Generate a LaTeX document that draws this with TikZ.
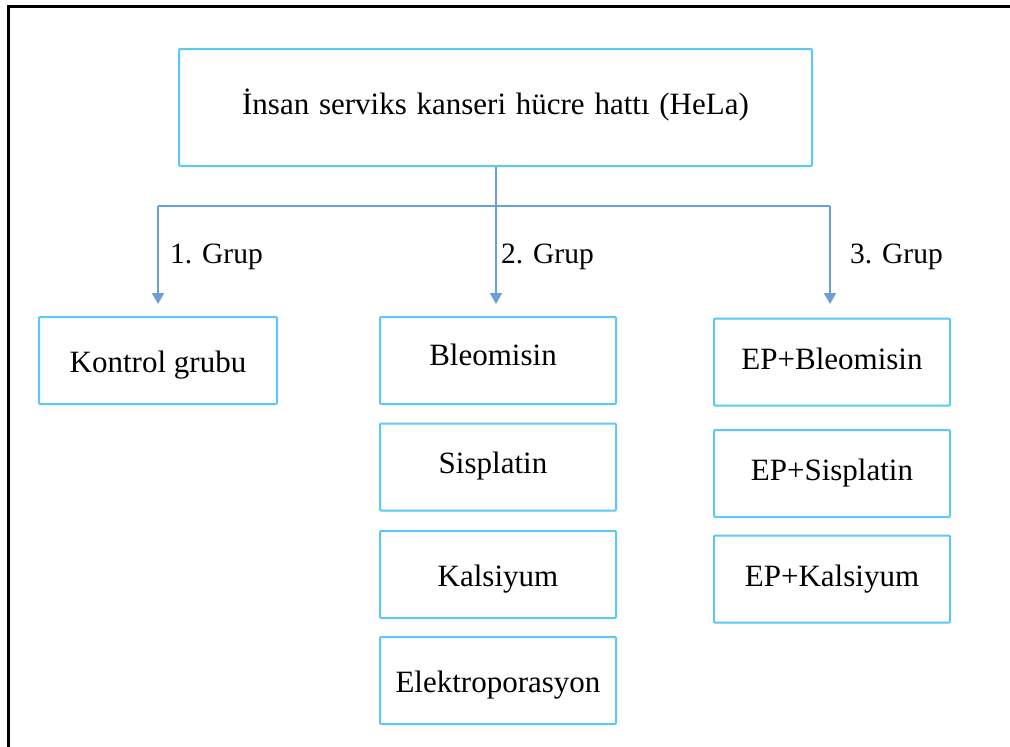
\documentclass[tikz,border=0pt]{standalone}
\usepackage{fontspec}
\setmainfont{Liberation Serif}
\usetikzlibrary{arrows.meta}
\definecolor{boxc}{HTML}{5CC8F5}
\definecolor{arrc}{HTML}{6A9FD8}
\tikzset{
  box/.style={draw=boxc, line width=2pt, rounded corners=1pt, minimum width=#1, minimum height=87pt, inner sep=0pt, text height=21pt, text depth=7pt, font=\fontsize{31}{36}\selectfont},
  conn/.style={draw=arrc, line width=2pt},
  arr/.style={conn, -{Triangle[length=11pt,width=12pt]}},
  lbl/.style={font=\fontsize{29.5}{34}\selectfont, anchor=west, inner sep=0pt}
}
\newcommand{\wsp}{\hspace{2pt} }
\begin{document}
\begin{tikzpicture}[x=1pt,y=-1pt]
\useasboundingbox (0,0) rectangle (1010,747);
\draw[line width=3pt] (8,760) -- (8,6) -- (1020,6);
\node[box=633pt, minimum height=117pt] (top) at (495.5,107.5) {İnsan\wsp serviks\wsp kanseri\wsp hücre\wsp hattı\wsp (HeLa)};
\node[box=238pt] (k) at (158,360.5) {\raisebox{-5pt}{Kontrol grubu}};
\node[box=236pt] (b) at (498,360.5) {\raisebox{2pt}{\hspace{-10pt}Bleomisin}};
\node[box=236pt] (s) at (498,467) {\raisebox{1pt}{\hspace{-10pt}Sisplatin}};
\node[box=236pt] (ka) at (498,574.5) {\raisebox{-5pt}{Kalsiyum}};
\node[box=236pt] (e) at (498,680.5) {\raisebox{-5pt}{Elektroporasyon}};
\node[box=236pt] (eb) at (832,362) {EP+Bleomisin};
\node[box=236pt] (es) at (832,473.5) {EP+Sisplatin};
\node[box=236pt] (ek) at (832,579) {EP+Kalsiyum};
\coordinate (j) at (496,206);
\coordinate (jl) at (158,206);
\coordinate (jr) at (830,206);
\draw[conn] (top.south -| j) -- (j);
\draw[conn] (jl) -- (jr);
\draw[arr] (jl) -- (158,304) coordinate (a1);
\draw[arr] (j) -- (496,304) coordinate (a2);
\draw[arr] (jr) -- (830,304) coordinate (a3);
\node[lbl] (g1) at (170,257) {1. Grup};
\node[lbl] (g2) at (501,257) {2. Grup};
\node[lbl] (g3) at (850,257) {3. Grup};
\end{tikzpicture}
\end{document}
